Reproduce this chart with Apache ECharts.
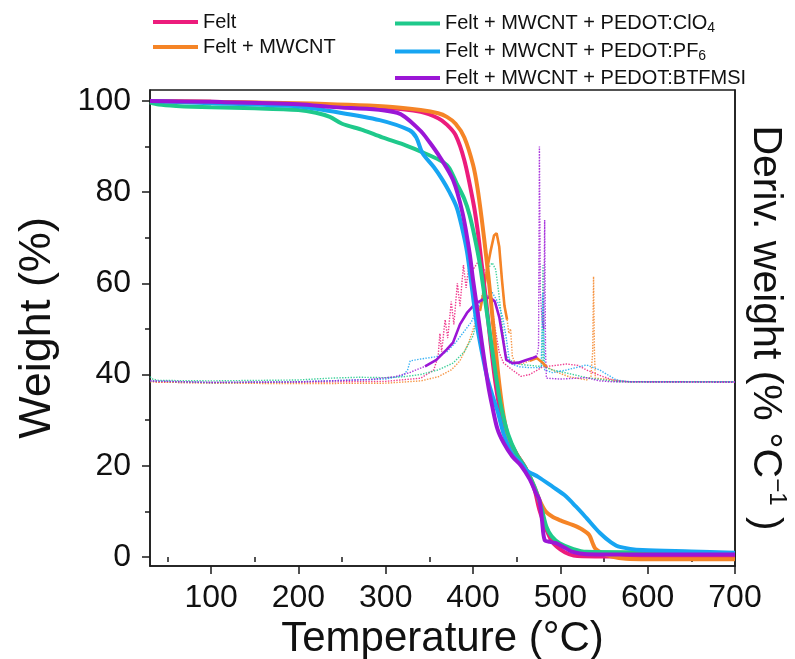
<!DOCTYPE html>
<html>
<head>
<meta charset="utf-8">
<script src="https://cdn.jsdelivr.net/npm/echarts@6/dist/echarts.min.js"></script>
<style>
  html, body { margin: 0; padding: 0; background: #ffffff; }
  #chart { width: 795px; height: 659px; }
</style>
</head>
<body>
<div id="chart"></div>
<script>
// Sample names (legend text) and colours
const sampleNames = [
  'Felt',
  'Felt + MWCNT',
  'Felt + MWCNT + PEDOT:ClO4',
  'Felt + MWCNT + PEDOT:PF6',
  'Felt + MWCNT + PEDOT:BTFMSI'
];
const sampleColors = ['#EC1C7C', '#F58426', '#1FC98B', '#17A5F2', '#9B16D6'];

// Axis ticks
const xMajorTicks = [100, 200, 300, 400, 500, 600, 700];
const xMinorTicks = [50, 150, 250, 350, 450, 550, 650];
const yMajorTicks = [0, 20, 40, 60, 80, 100];
const yMinorTicks = [10, 30, 50, 70, 90];

// TGA curves: [temperature (°C), weight (%)]
const tgaFelt = [[30,100],[100,99.8],[200,99.3],[300,98.5],[340,97.6],[360,96.2],[370,94.8],[380,92.5],[390,87],[400,78],[405,72],[410,64],[415,56],[420,47],[425,39],[430,33],[435,29],[440,26],[450,22.5],[460,19.5],[470,15],[476,10.3],[484,6],[490,3.5],[496,2.2],[505,1],[515,0.3],[540,0.1],[600,0.1],[700,0.1]];
const tgaMWCNT = [[30,100],[100,99.8],[200,99.5],[300,98.8],[340,98],[360,97.3],[370,96.5],[380,95],[390,92],[400,86],[405,81],[410,74],[415,66],[420,57],[425,47],[430,38],[435,31],[440,26.5],[450,22.5],[460,19.5],[470,15.5],[476,12.5],[483,10],[491,8.8],[500,8],[514,7],[525,6],[533,4.8],[537,3],[540,1.8],[548,0.8],[560,0],[575,-0.4],[600,-0.5],[700,-0.5]];
const tgaClO4 = [[30,99.7],[40,99.2],[60,98.9],[100,98.6],[150,98.4],[200,98],[220,97.4],[236,96.5],[250,95],[274,93.6],[296,92],[320,90.5],[339,89],[362,87],[372,85.5],[381,82],[390,78.5],[396,75],[402,70],[408,64],[414,56],[420,48],[426,40],[432,33],[440,27],[450,22.5],[460,19.5],[470,15.5],[478,11],[484,6.6],[490,4.5],[499,3],[515,1.7],[530,1.1],[600,1],[700,0.8]];
const tgaPF6 = [[30,100],[100,99.5],[200,98.8],[236,97.8],[293,95.8],[327,93.6],[335,92],[342,88.6],[355,85.5],[365,82.7],[373,80],[381,76.8],[387,72.5],[393,67],[398,60],[404,51.3],[410,45],[416,39.5],[422,35.5],[428,32],[435,27],[445,22.5],[455,20.5],[461,19],[475,17.5],[491,15.4],[505,13.5],[518,11],[530,8.5],[545,5.3],[558,3.2],[568,2.2],[594,1.5],[650,1.2],[700,0.9]];
const tgaBTFMSI = [[30,100],[100,99.8],[200,99.3],[236,98.7],[313,97.4],[339,93.6],[350,91],[362,87.7],[377,82.7],[388,75.4],[396,66.7],[400,60.7],[405,54],[410,47],[417,38],[422,33],[428,28],[435,25],[445,22],[455,20],[465,17],[472,14],[476,12.5],[479,8],[482,3.7],[488,3.3],[495,3],[505,2],[514,1.1],[530,0.6],[600,0.5],[700,0.5]];

// Derivative curves: [temperature (°C), deriv. weight (% °C⁻¹)]
const dtgFelt = [[30,0.01],[40,-0.005],[100,-0.01],[200,-0.005],[300,0.005],[340,0.04],[355,0.13],[360,0.28],[362,0.53],[364,0.33],[368,0.68],[371,0.48],[375,0.88],[378,0.63],[382,1.08],[385,0.83],[389,1.28],[392,1.03],[396,1.33],[400,1.23],[405,1.305],[410,1.28],[415,1.2],[420,0.95],[425,0.6],[430,0.32],[435,0.205],[445,0.13],[455,0.06],[465,0.08],[480,0.165],[495,0.18],[507,0.195],[520,0.18],[530,0.13],[545,0.07],[560,0.02],[580,0],[700,0]];
const dtgMWCNT = [[30,0],[100,-0.015],[200,-0.02],[300,-0.015],[340,0.01],[360,0.055],[375,0.13],[385,0.23],[395,0.43],[402,0.63],[408,0.78],[412,0.98],[416,1.23],[420,1.43],[424,1.605],[427,1.63],[430,1.48],[433,1.13],[436,0.83],[439,0.68],[441,0.53],[443,0.58],[445,0.28],[448,0.205],[455,0.195],[465,0.23],[473,0.26],[480,0.205],[484,0.165],[495,0.11],[510,0.055],[530,0.02],[535,0.055],[537,0.33],[538,1.155],[539,0.33],[540,0.04],[550,0.03],[560,0.02],[575,0],[700,0]];
const dtgClO4 = [[30,0.055],[33,0.03],[40,0.015],[100,0.01],[200,0.02],[236,0.04],[270,0.05],[300,0.045],[320,0.055],[340,0.08],[360,0.13],[377,0.205],[390,0.33],[400,0.505],[408,0.83],[414,1.13],[418,1.255],[422,1.305],[426,1.23],[430,0.93],[434,0.57],[438,0.28],[445,0.22],[455,0.19],[465,0.18],[475,0.17],[479,0.18],[480,1.28],[481,0.18],[484,0.155],[491,0.13],[510,0.09],[530,0.045],[550,0.02],[567,0],[700,0]];
const dtgPF6 = [[30,0.01],[100,-0.01],[200,0],[300,0.03],[320,0.07],[325,0.13],[328,0.23],[340,0.25],[358,0.275],[370,0.33],[380,0.43],[388,0.53],[398,0.655],[408,0.865],[415,0.93],[422,0.98],[428,0.88],[434,0.71],[438,0.48],[442,0.205],[453,0.165],[465,0.155],[478,0.155],[480,0.98],[482,0.13],[491,0.1],[507,0.13],[522,0.165],[530,0.185],[545,0.13],[564,0.02],[580,0],[700,0]];
const dtgBTFMSI = [[30,0.01],[100,-0.005],[200,0],[282,0.025],[310,0.055],[327,0.1],[345,0.17],[358,0.24],[370,0.355],[377,0.43],[385,0.63],[393,0.755],[400,0.83],[404,0.865],[411,0.9],[419,0.93],[425,0.88],[430,0.71],[434,0.48],[438,0.24],[445,0.205],[452,0.21],[461,0.24],[468,0.26],[473,0.28],[475,0.38],[476,2.58],[477,0.98],[479,0.68],[481,0.58],[482,1.775],[483,0.33],[484,0.04],[500,0.03],[530,0.045],[545,0.01],[560,0],[700,-0.005]];

const tgaSets = [tgaFelt, tgaMWCNT, tgaClO4, tgaPF6, tgaBTFMSI];
const dtgSets = [dtgFelt, dtgMWCNT, dtgClO4, dtgPF6, dtgBTFMSI];

// Temperature windows where the derivative trace is dense enough to read as a solid line
const denseWindows = [[], [[405, 440], [462, 490]], [], [], [[330, 473]]];

const axisColor = '#1a1a1a';
const fontFamily = 'Liberation Sans, Arial, sans-serif';

const series = [];
dtgSets.forEach((d, i) => {
  series.push({
    name: sampleNames[i] + ' DTG',
    type: 'line', xAxisIndex: 0, yAxisIndex: 2,
    data: d, symbol: 'none', z: 2, silent: true,
    lineStyle: { color: sampleColors[i], width: 1.4, type: 'dotted', opacity: 0.85 }
  });
  denseWindows[i].forEach(([lo, hi]) => {
    series.push({
      name: sampleNames[i] + ' DTG',
      type: 'line', xAxisIndex: 0, yAxisIndex: 2,
      data: d.filter(p => p[0] >= lo && p[0] <= hi), symbol: 'none', z: 3, silent: true,
      lineStyle: { color: sampleColors[i], width: 2.6 }
    });
  });
});
tgaSets.forEach((d, i) => {
  series.push({
    name: sampleNames[i],
    type: 'line', xAxisIndex: 0, yAxisIndex: 0,
    data: d, symbol: 'none', smooth: 0.3, z: 5,
    color: sampleColors[i],
    lineStyle: { color: sampleColors[i], width: 4 }
  });
});

const legendText = name => {
  const m = name.match(/^(.*?)(\d)$/);
  return m ? '{t|' + m[1] + '}{s|' + m[2] + '}' : '{t|' + name + '}';
};
const legendCommon = {
  orient: 'vertical', icon: 'rect', itemWidth: 45, itemHeight: 4, itemGap: 5,
  selectedMode: false, formatter: legendText,
  textStyle: {
    fontFamily, color: '#111',
    rich: {
      t: { fontSize: 20, fontFamily, color: '#111', lineHeight: 23 },
      s: { fontSize: 14, fontFamily, color: '#111', lineHeight: 23, verticalAlign: 'bottom', padding: [9, 0, 0, 0] }
    }
  }
};

const chart = echarts.init(document.getElementById('chart'), null, { renderer: 'canvas' });
chart.setOption({
  animation: false,
  backgroundColor: '#ffffff',
  textStyle: { fontFamily },
  legend: [
    Object.assign({ left: 148, top: 7, data: sampleNames.slice(0, 2) }, legendCommon),
    Object.assign({ left: 390, top: 7, data: sampleNames.slice(2) }, legendCommon)
  ],
  grid: {
    left: 150, right: 60, top: 90, bottom: 93, outerBoundsMode: 'none',
    show: true, borderColor: axisColor, borderWidth: 1.5, backgroundColor: 'transparent'
  },
  xAxis: [
    {
      type: 'value', min: 30, max: 700, position: 'bottom',
      axisLine: { show: true, onZero: false, lineStyle: { color: axisColor, width: 1.5 } },
      axisTick: { show: true, length: 8, customValues: xMajorTicks, lineStyle: { color: axisColor, width: 1.5 } },
      axisLabel: { customValues: xMajorTicks, fontSize: 32, color: '#111', margin: 16, fontFamily },
      splitLine: { show: false },
      name: 'Temperature (°C)', nameLocation: 'middle', nameGap: 42,
      nameTextStyle: { fontSize: 42, color: '#111', fontFamily }
    },
    {
      type: 'value', min: 30, max: 700, position: 'bottom',
      axisLine: { show: false },
      axisTick: { show: true, length: 5, customValues: xMinorTicks, lineStyle: { color: axisColor, width: 1.5 } },
      axisLabel: { show: false }, splitLine: { show: false }
    }
  ],
  yAxis: [
    {
      type: 'value', min: -2, max: 102.4, position: 'left',
      axisLine: { show: true, onZero: false, lineStyle: { color: axisColor, width: 1.5 } },
      axisTick: { show: true, length: 8, customValues: yMajorTicks, lineStyle: { color: axisColor, width: 1.5 } },
      axisLabel: { customValues: yMajorTicks, fontSize: 32, color: '#111', margin: 19, fontFamily },
      splitLine: { show: false },
      name: 'Weight (%)', nameLocation: 'middle', nameGap: 90,
      nameTextStyle: { fontSize: 45, color: '#111', fontFamily }
    },
    {
      type: 'value', min: -2, max: 102.4, position: 'left',
      axisLine: { show: false },
      axisTick: { show: true, length: 5, customValues: yMinorTicks, lineStyle: { color: axisColor, width: 1.5 } },
      axisLabel: { show: false }, splitLine: { show: false }
    },
    {
      type: 'value', min: -2.02, max: 3.2, position: 'right',
      axisLine: { show: true, onZero: false, lineStyle: { color: axisColor, width: 1.5 } },
      axisTick: { show: false }, axisLabel: { show: false }, splitLine: { show: false },
      name: '{a|Deriv. weight (% °C}{s|−1}{a| )}', nameLocation: 'middle', nameRotate: -90, nameGap: 6,
      nameTextStyle: {
        color: '#111', fontFamily,
        rich: {
          a: { fontSize: 41, fontFamily, color: '#111', lineHeight: 48 },
          s: { fontSize: 24, fontFamily, color: '#111', lineHeight: 48, verticalAlign: 'top', padding: [0, 0, 14, 0] }
        }
      }
    }
  ],
  series
});
</script>
</body>
</html>
